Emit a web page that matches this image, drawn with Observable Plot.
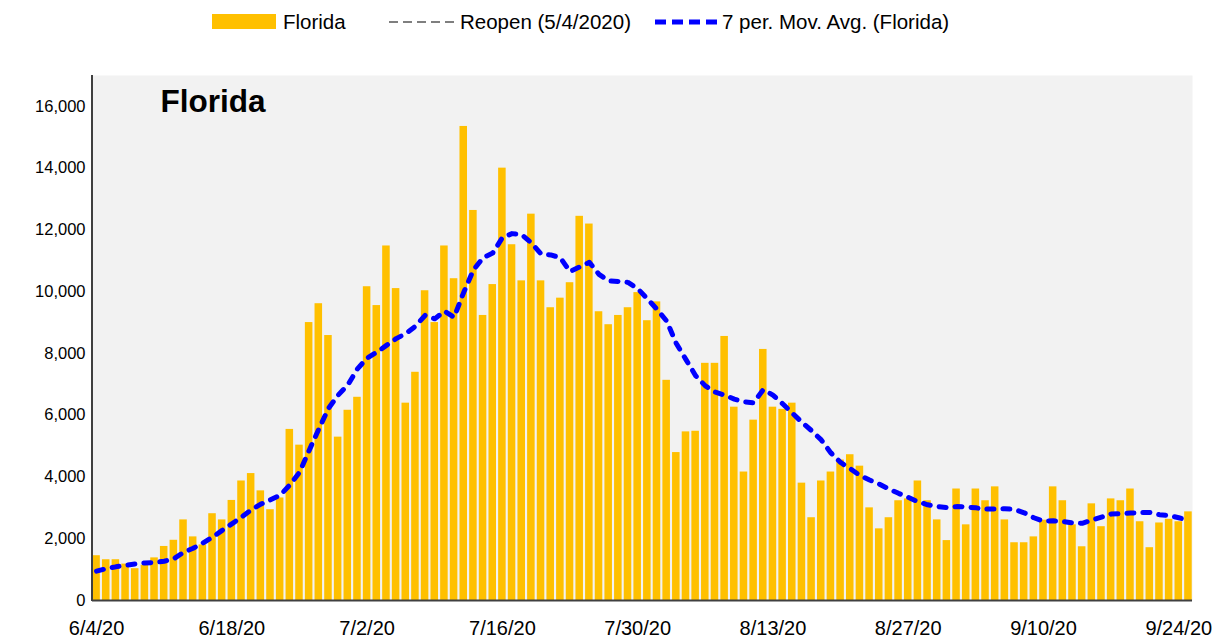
<!DOCTYPE html>
<html><head><meta charset="utf-8">
<script src="https://cdn.jsdelivr.net/npm/d3@7"></script>
<script src="https://cdn.jsdelivr.net/npm/@observablehq/plot@0.6"></script>
<style>
html,body{margin:0;padding:0;background:#fff;overflow:hidden;width:1221px;height:641px;}
svg{display:block;}
</style></head><body>
<div id="legend"></div>
<div id="chart"></div>
<script>
const FONT = '"Liberation Sans Narrow","Arial Narrow","Liberation Sans",Arial,sans-serif';
const title = "Florida";
const seriesNames = ["Florida", "Reopen (5/4/2020)", "7 per. Mov. Avg. (Florida)"];
const startDate = "2020-06-04";
const tickLabels = ["6/4/20","6/18/20","7/2/20","7/16/20","7/30/20","8/13/20","8/27/20","9/10/20","9/24/20"];
const yTicks = [0,2000,4000,6000,8000,10000,12000,14000,16000];
const cases = [
  1450,1320,1320,1180,1030,1140,1380,1750,1950,2610,
  2060,1800,2810,2610,3240,3870,4110,3550,2940,3320,
  5540,5030,9000,9610,8580,5290,6160,6580,10160,9550,
  11480,10100,6390,7390,10030,9000,11480,10420,15350,12630,
  9230,10230,14000,11520,10350,12510,10350,9480,9790,10290,
  12440,12190,9350,8930,9230,9480,9970,9060,9670,7130,
  4790,5460,5480,7680,7680,8550,6260,4160,5840,8130,
  6260,6190,6390,3800,2680,3870,4160,4550,4720,4350,
  3000,2320,2680,3230,3290,3870,3230,2610,1940,3610,
  2450,3610,3230,3680,2610,1870,1870,2060,2600,3680,
  3230,2450,1740,3130,2390,3290,3230,3610,2550,1710,
  2510,2630,2550,2870
];
const movAvg = [
  950,1030,1090,1140,1180,1215,1230,1270,1350,1560,
  1690,1860,2050,2270,2480,2700,2930,3120,3260,3410,
  3740,4150,4860,5550,6220,6650,6980,7500,7850,8040,
  8260,8480,8640,8880,9230,9120,9370,9170,9980,10700,
  11100,11250,11750,11880,11850,11580,11220,11190,11100,10650,
  10800,10950,10560,10350,10330,10300,10100,9770,9430,9050,
  8320,7800,7280,6950,6750,6650,6520,6430,6400,6830,
  6650,6370,6070,5770,5500,5200,4780,4470,4270,4050,
  3900,3770,3610,3470,3340,3200,3100,3040,3010,3040,
  3030,3000,2960,2960,2970,2950,2840,2680,2570,2580,
  2560,2510,2500,2600,2700,2800,2810,2830,2850,2850,
  2780,2750,2680,2590
];

const fmtDate = d3.utcFormat("%-m/%-d/%y");
const t0 = new Date(startDate + "T00:00:00Z");
const labels = cases.map((_, i) => fmtDate(d3.utcDay.offset(t0, i)));
const data = labels.map((date, i) => ({date, cases: cases[i], avg: movAvg[i]}));

// Legend
const lg = d3.select("#legend").append("svg").attr("width", 1221).attr("height", 45)
  .style("font-family", FONT).style("font-size", "20.5px");
lg.append("rect").attr("x", 212).attr("y", 14).attr("width", 64).attr("height", 15).attr("fill", "#FFC000");
lg.append("text").attr("x", 283).attr("y", 29).text(seriesNames[0]);
lg.append("line").attr("x1", 389).attr("x2", 455).attr("y1", 22).attr("y2", 22)
  .attr("stroke", "#000").attr("stroke-width", 1.2).attr("stroke-dasharray", "9,5");
lg.append("text").attr("x", 460).attr("y", 29).text(seriesNames[1]);
lg.append("line").attr("x1", 655).attr("x2", 719).attr("y1", 22).attr("y2", 22)
  .attr("stroke", "#0000ff").attr("stroke-width", 5).attr("stroke-dasharray", "11,6");
lg.append("text").attr("x", 722).attr("y", 29).text(seriesNames[2]);

const marginLeft = 92, marginTop = 30, marginBottom = 41, marginRight = 29, H = 596;
const chart = Plot.plot({
  width: 1221,
  height: H,
  marginLeft, marginRight, marginTop, marginBottom,
  style: {fontFamily: FONT, fontSize: "16.5px", color: "#000", background: "transparent", overflow: "visible"},
  x: {type: "band", domain: labels, paddingInner: 0.22, paddingOuter: 0.03, ticks: tickLabels, tickSize: 0, tickPadding: 20, label: null},
  y: {domain: [0, 17000], ticks: yTicks, tickFormat: d3.format(","), tickSize: 0, tickPadding: 7, label: null},
  marks: [
    Plot.frame({fill: "#f2f2f2", stroke: null}),
    Plot.barY(data, {x: "date", y: "cases", fill: "#FFC000"}),
    Plot.line(data, {x: "date", y: "avg", stroke: "#0000ff", strokeWidth: 5, strokeDasharray: "7,9", strokeLinecap: "round", strokeLinejoin: "round"}),
    Plot.ruleY([0], {stroke: "#404040", strokeWidth: 2}),
    Plot.text([title], {frameAnchor: "top-left", dx: 68, dy: 26.5, lineAnchor: "middle", textAnchor: "start", fontWeight: "bold", fontSize: 31.5, fill: "#000"})
  ]
});
document.getElementById("chart").appendChild(chart);
// left axis line
d3.select(chart).append("line")
  .attr("x1", marginLeft).attr("x2", marginLeft)
  .attr("y1", marginTop).attr("y2", H - marginBottom + 1)
  .attr("stroke", "#404040").attr("stroke-width", 2);
d3.select(chart).selectAll("g[aria-label='x-axis tick label'] text, g[aria-label='x-axis'] text").attr("font-size", 20);
</script>
</body></html>
